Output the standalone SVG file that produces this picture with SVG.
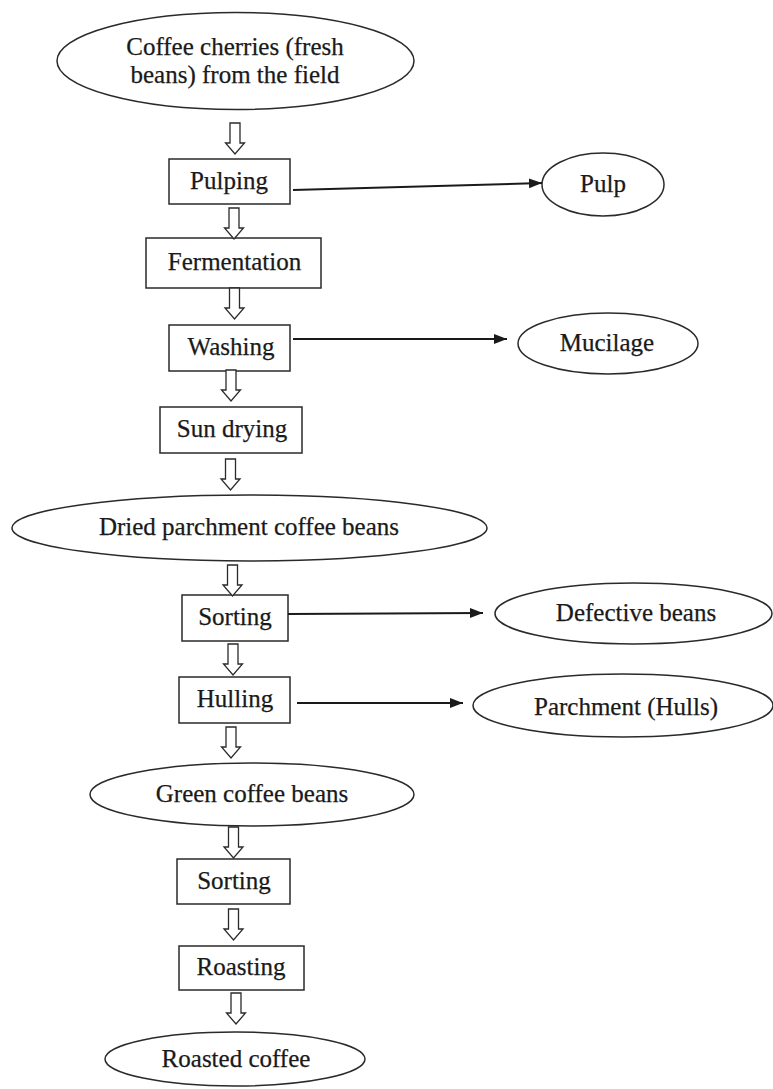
<svg xmlns="http://www.w3.org/2000/svg" xmlns:xlink="http://www.w3.org/1999/xlink" width="773" height="1089" viewBox="0 0 773 1089">
<style>
.n{fill:#fff;stroke:#2a2a2a;stroke-width:1.5}
.t{font-family:"Liberation Serif","Times New Roman",serif;font-size:25px;fill:#1a1a1a;stroke:#1a1a1a;stroke-width:0.25;text-anchor:middle}
.c{stroke:#1a1a1a;stroke-width:2;fill:none}
.b{fill:#fff;stroke:#2a2a2a;stroke-width:1.3}
</style>
<defs>
<marker id="ah" markerUnits="userSpaceOnUse" markerWidth="14" markerHeight="12" refX="13" refY="5" orient="auto">
<path d="M0,0 L13,5 L0,10 Z" fill="#1a1a1a"/>
</marker>
<path id="blk" class="b" d="M-5,0 H5 V20 H9.5 L0,31 L-9.5,20 H-5 Z"/>
</defs>
<rect width="773" height="1089" fill="#fff"/>

<g id="n-cherries"><ellipse class="n" cx="235.5" cy="61" rx="178.5" ry="48.5"/><text class="t" x="235" y="55">Coffee cherries (fresh</text><text class="t" x="235" y="83">beans) from the field</text></g>
<g id="n-pulping"><rect class="n" x="169" y="159" width="121" height="45"/><text class="t" x="229" y="189">Pulping</text></g>
<g id="n-pulp"><ellipse class="n" cx="603" cy="184.5" rx="61" ry="31.5"/><text class="t" x="603" y="192">Pulp</text></g>
<g id="n-fermentation"><rect class="n" x="146" y="238" width="175" height="50"/><text class="t" x="234.5" y="270">Fermentation</text></g>
<g id="n-washing"><rect class="n" x="169" y="325" width="121" height="46"/><text class="t" x="231" y="355">Washing</text></g>
<g id="n-mucilage"><ellipse class="n" cx="608" cy="343.5" rx="90" ry="30.5"/><text class="t" x="607" y="351">Mucilage</text></g>
<g id="n-sundrying"><rect class="n" x="160" y="407" width="142" height="46"/><text class="t" x="232" y="437">Sun drying</text></g>
<g id="n-dried"><ellipse class="n" cx="249.5" cy="528" rx="237.5" ry="33"/><text class="t" x="249" y="535">Dried parchment coffee beans</text></g>
<g id="n-sorting1"><rect class="n" x="182" y="595" width="106" height="46"/><text class="t" x="235" y="625">Sorting</text></g>
<g id="n-defective"><ellipse class="n" cx="633.5" cy="613.5" rx="138.5" ry="30.5"/><text class="t" x="636" y="621">Defective beans</text></g>
<g id="n-hulling"><rect class="n" x="179" y="677" width="111" height="46"/><text class="t" x="235" y="707">Hulling</text></g>
<g id="n-parchment"><ellipse class="n" cx="623" cy="705.5" rx="150" ry="31.5"/><text class="t" x="626" y="715">Parchment (Hulls)</text></g>
<g id="n-green"><ellipse class="n" cx="252" cy="794.5" rx="162" ry="31.5"/><text class="t" x="252" y="802">Green coffee beans</text></g>
<g id="n-sorting2"><rect class="n" x="177" y="859" width="113" height="45"/><text class="t" x="234" y="889">Sorting</text></g>
<g id="n-roasting"><rect class="n" x="179" y="946" width="125" height="44"/><text class="t" x="241" y="975">Roasting</text></g>
<g id="n-roasted"><ellipse class="n" cx="235" cy="1059" rx="130" ry="27"/><text class="t" x="236" y="1067">Roasted coffee</text></g>

<g id="connectors">
<use xlink:href="#blk" href="#blk" x="235" y="123"/>
<use xlink:href="#blk" href="#blk" x="234" y="208"/>
<use xlink:href="#blk" href="#blk" x="234.5" y="288"/>
<use xlink:href="#blk" href="#blk" x="231" y="370"/>
<use xlink:href="#blk" href="#blk" x="230.5" y="459"/>
<use xlink:href="#blk" href="#blk" x="232.5" y="565"/>
<use xlink:href="#blk" href="#blk" x="233" y="644"/>
<use xlink:href="#blk" href="#blk" x="231" y="727"/>
<use xlink:href="#blk" href="#blk" x="233.5" y="827"/>
<use xlink:href="#blk" href="#blk" x="233.5" y="909"/>
<use xlink:href="#blk" href="#blk" x="236" y="993"/>
<line class="c" x1="293" y1="190" x2="542" y2="183" marker-end="url(#ah)"/>
<line class="c" x1="293" y1="339" x2="507" y2="339" marker-end="url(#ah)"/>
<line class="c" x1="288" y1="614" x2="483" y2="613" marker-end="url(#ah)"/>
<line class="c" x1="297" y1="703" x2="463" y2="703" marker-end="url(#ah)"/>
</g>
</svg>
